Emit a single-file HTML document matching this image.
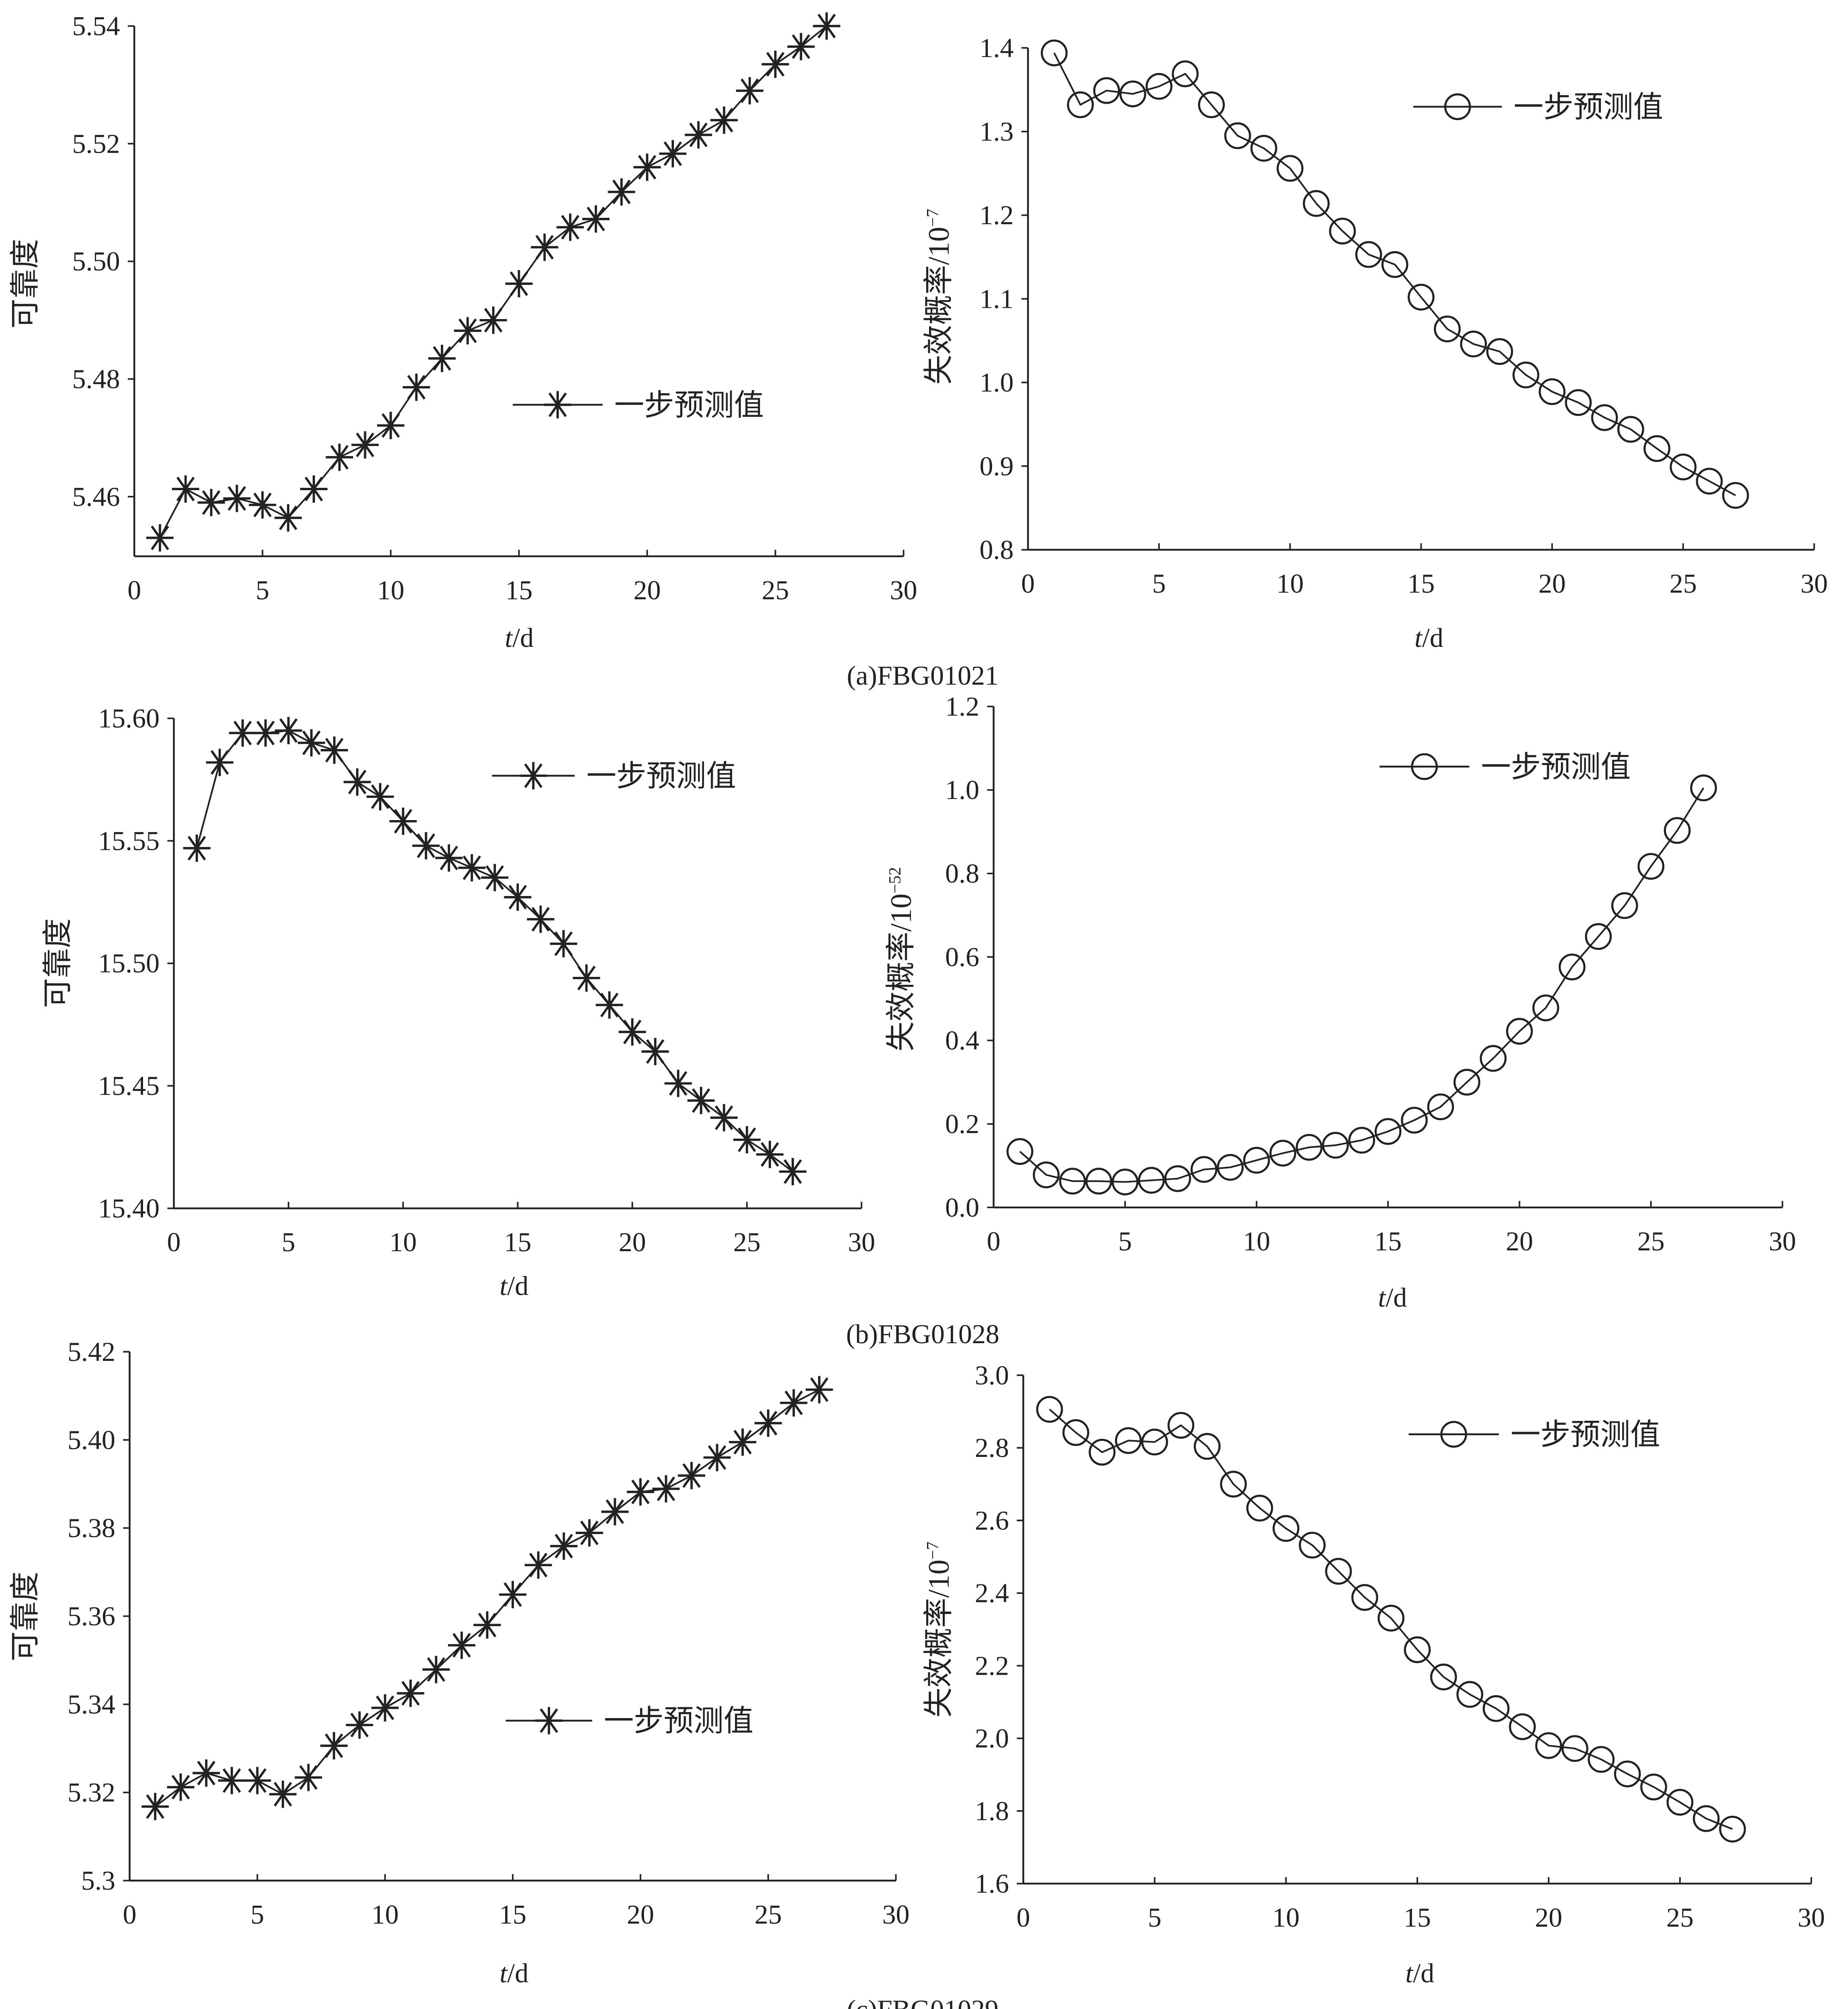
<!DOCTYPE html>
<html><head><meta charset="utf-8">
<style>
html,body{margin:0;padding:0;background:#fff;width:4599px;height:5063px;overflow:hidden;}
svg{display:block;}
text{font-family:"Liberation Serif","Noto Serif CJK SC","Noto Sans CJK SC",serif;fill:#222;}
.cjk{font-family:"Liberation Serif","Noto Sans CJK SC",sans-serif;}
</style></head>
<body>
<svg id="fig" xmlns="http://www.w3.org/2000/svg" width="4599" height="5063" viewBox="0 0 1420 1563" preserveAspectRatio="none">
<rect width="1420" height="1563" fill="#fff"/>
<text x="709" y="526" font-size="21" text-anchor="middle">(a)FBG01021</text>
<text x="709" y="1032" font-size="21" text-anchor="middle">(b)FBG01028</text>
<text x="709" y="1551" font-size="21" text-anchor="middle">(c)FBG01029</text>
</svg>
<script>
const days=[1,2,3,4,5,6,7,8,9,10,11,12,13,14,15,16,17,18,19,20,21,22,23,24,25,26,27];
const xTickLabels=['0','5','10','15','20','25','30'];
const aRelValues=[5.4530,5.4613,5.4590,5.4597,5.4586,5.4564,5.4613,5.4667,5.4688,5.4721,5.4786,5.4835,5.4882,5.4900,5.4962,5.5024,5.5058,5.5072,5.5118,5.5160,5.5183,5.5215,5.5240,5.5290,5.5335,5.5365,5.5400];
const aFailValues=[1.394,1.332,1.349,1.345,1.354,1.369,1.332,1.295,1.280,1.256,1.214,1.181,1.153,1.141,1.102,1.064,1.046,1.037,1.009,0.989,0.976,0.958,0.944,0.921,0.899,0.882,0.865];
const bRelValues=[15.547,15.582,15.594,15.594,15.595,15.590,15.587,15.574,15.568,15.558,15.548,15.543,15.539,15.535,15.527,15.518,15.508,15.494,15.483,15.472,15.464,15.451,15.444,15.437,15.428,15.422,15.415];
const bFailValues=[0.134,0.078,0.063,0.063,0.061,0.065,0.069,0.091,0.096,0.113,0.130,0.144,0.149,0.161,0.182,0.209,0.241,0.300,0.357,0.422,0.478,0.576,0.649,0.723,0.817,0.903,1.005];
const cRelValues=[5.3168,5.3212,5.3244,5.3227,5.3227,5.3196,5.3234,5.3306,5.3353,5.3392,5.3425,5.3479,5.3534,5.3580,5.3649,5.3716,5.3759,5.3789,5.3837,5.3882,5.3889,5.3919,5.3960,5.3995,5.4038,5.4084,5.4114];
const cFailValues=[2.906,2.842,2.788,2.820,2.816,2.862,2.804,2.700,2.634,2.578,2.532,2.460,2.388,2.331,2.244,2.169,2.121,2.082,2.032,1.980,1.972,1.942,1.902,1.866,1.824,1.779,1.750];
const aRelTicks=['5.46','5.48','5.50','5.52','5.54'];
const aFailTicks=['0.8','0.9','1.0','1.1','1.2','1.3','1.4'];
const bRelTicks=['15.40','15.45','15.50','15.55','15.60'];
const bFailTicks=['0.0','0.2','0.4','0.6','0.8','1.0','1.2'];
const cRelTicks=['5.3','5.32','5.34','5.36','5.38','5.40','5.42'];
const cFailTicks=['1.6','1.8','2.0','2.2','2.4','2.6','2.8','3.0'];

const NS='http://www.w3.org/2000/svg';
const svg=document.getElementById('fig');
function mk(tag,attrs,parent){const e=document.createElementNS(NS,tag);for(const k in attrs)e.setAttribute(k,attrs[k]);(parent||svg).appendChild(e);return e;}

function panel(p){
  const g=mk('g',{});
  
  
  const xs=v=>p.x0+(p.x30-p.x0)*v/30;
  const ys=v=>p.r1y+(v-p.r1v)*(p.r2y-p.r1y)/(p.r2v-p.r1v);
  const top=p.axTop!==undefined?p.axTop:ys(parseFloat(p.ticks[p.ticks.length-1]));
  const bot=p.axBot!==undefined?p.axBot:ys(parseFloat(p.ticks[0]));
  const ya=mk('line',{x1:p.x0,y1:top,x2:p.x0,y2:bot,stroke:'#222','stroke-width':1.4},g);
  
  
  const xa=mk('line',{x1:p.x0,y1:bot,x2:p.x30,y2:bot,stroke:'#222','stroke-width':1.4},g);
  
  
  p.ticks.forEach(t=>{
    const y=ys(parseFloat(t));
    mk('line',{x1:p.x0-5,y1:y,x2:p.x0,y2:y,stroke:'#222','stroke-width':1.2},g);
    const tx=mk('text',{x:p.x0-11,y:y+7,'font-size':21,'text-anchor':'end'},g);
    tx.textContent=t;
    
    
  });
  xTickLabels.forEach(t=>{
    const x=xs(parseFloat(t));
    mk('line',{x1:x,y1:bot,x2:x,y2:bot-5,stroke:'#222','stroke-width':1.2},g);
    const tx=mk('text',{x:x,y:bot+33,'font-size':21,'text-anchor':'middle'},g);
    tx.textContent=t;
    
    
  });
  const xt=mk('text',{x:p.xtx,y:p.xty,'font-size':21,'text-anchor':'middle'},g);
  xt.innerHTML='<tspan font-style="italic">t</tspan>/d';
  
  
  const yt=mk('text',{x:0,y:0,'font-size':23,'text-anchor':'middle',transform:`translate(${p.ytx},${p.yty}) rotate(-90)`,class:'cjk'},g);
  yt.innerHTML=p.ytitle;
  
  
  const pts=days.map((d,i)=>[xs(d),ys(p.vals[i])]);
  const line=mk('polyline',{points:pts.map(q=>q.join(',')).join(' '),fill:'none',stroke:'#222','stroke-width':1.3},g);
  
  
  pts.forEach(q=>{
    const m=marker(p.marker,q[0],q[1],g);
    
    
  });
  const lg=mk('g',{},g);
  
  
  mk('line',{x1:p.lx1,y1:p.ly,x2:p.lx2,y2:p.ly,stroke:'#222','stroke-width':1.4},lg);
  marker(p.marker,(p.lx1+p.lx2)/2,p.ly,lg);
  const lt=mk('text',{x:p.lx2+9,y:p.ly+8,'font-size':23,class:'cjk'},lg);
  lt.textContent='一步预测值';
}
function marker(type,x,y,parent){
  if(type==='circle'){
    return mk('circle',{cx:x,cy:y,r:9.5,fill:'none',stroke:'#222','stroke-width':1.6},parent);
  }
  const r=10.5,dx=r*0.6,dy=r*0.85;
  return mk('path',{d:`M${x-r},${y}H${x+r}M${x},${y-r}V${y+r}M${x-dx},${y-dy}L${x+dx},${y+dy}M${x+dx},${y-dy}L${x-dx},${y+dy}`,stroke:'#222','stroke-width':1.8,fill:'none'},parent);
}
const fail7='失效概率/10<tspan dy="-8" font-size="13">−7</tspan>';
const fail52='失效概率/10<tspan dy="-8" font-size="13">−52</tspan>';
panel({name:'panel-a-reliability',vals:aRelValues,ticks:aRelTicks,x0:103.2,x30:694.3,r1v:5.46,r1y:381.6,r2v:5.54,r2y:20,axTop:20,axBot:427.4,marker:'star',xtx:399,xty:497,ytx:27,yty:218,ytitle:'可靠度',lx1:394,lx2:463,ly:311});
panel({name:'panel-a-failure',vals:aFailValues,ticks:aFailTicks,x0:789.9,x30:1394,r1v:0.8,r1y:422.4,r2v:1.4,r2y:36.8,marker:'circle',xtx:1098,xty:497,ytx:729,yty:228,ytitle:fail7,lx1:1086,lx2:1154,ly:82});
panel({name:'panel-b-reliability',vals:bRelValues,ticks:bRelTicks,x0:133.6,x30:662,r1v:15.40,r1y:928.4,r2v:15.60,r2y:551.9,marker:'star',xtx:395,xty:995,ytx:52,yty:740,ytitle:'可靠度',lx1:378,lx2:441.6,ly:596});
panel({name:'panel-b-failure',vals:bFailValues,ticks:bFailTicks,x0:763.5,x30:1369.6,r1v:0,r1y:927.7,r2v:1.2,r2y:542.8,marker:'circle',xtx:1070,xty:1004,ytx:700,yty:737,ytitle:fail52,lx1:1060,lx2:1129,ly:589});
panel({name:'panel-c-reliability',vals:cRelValues,ticks:cRelTicks,x0:99.6,x30:688.4,r1v:5.30,r1y:1444.9,r2v:5.40,r2y:1106.3,marker:'star',xtx:395,xty:1523,ytx:27,yty:1242,ytitle:'可靠度',lx1:388.6,lx2:455,ly:1322});
panel({name:'panel-c-failure',vals:cFailValues,ticks:cFailTicks,x0:786.3,x30:1391.8,r1v:1.6,r1y:1447.2,r2v:3.0,r2y:1056.6,marker:'circle',xtx:1091,xty:1523,ytx:729,yty:1252,ytitle:fail7,lx1:1082.4,lx2:1151.7,ly:1102});
</script>
</body></html>
